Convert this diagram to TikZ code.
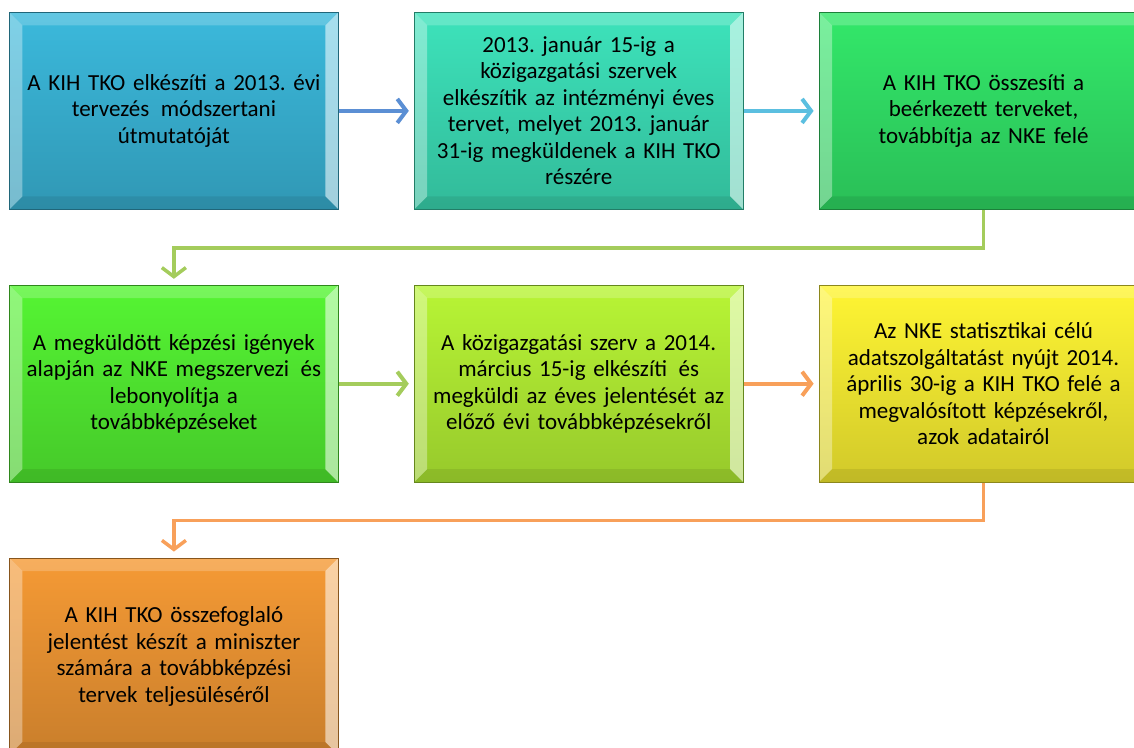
\documentclass[tikz,border=0pt]{standalone}
\usepackage{fontspec}
\setmainfont{Carlito}
\usepackage{tikz}
\usetikzlibrary{arrows.meta,positioning,calc}
\definecolor{kihblue}{RGB}{59,185,220}
\definecolor{kihteal}{RGB}{61,227,187}
\definecolor{kihgreen}{RGB}{51,232,106}
\definecolor{kihlime}{RGB}{85,245,51}
\definecolor{kihyellowgreen}{RGB}{184,245,53}
\definecolor{kihyellow}{RGB}{255,245,51}
\definecolor{kihorange}{RGB}{245,154,53}
\definecolor{arrblue}{RGB}{91,143,212}
\definecolor{arrcyan}{RGB}{91,191,224}
\definecolor{arrgreen}{RGB}{164,204,92}
\definecolor{arrorange}{RGB}{248,160,90}
\frenchspacing

\begin{document}
\begin{tikzpicture}[
    x=1pt, y=1pt,
    node distance=75pt,
    bevel/.style={path picture={
        \path (path picture bounding box.north west) coordinate (pNW)
              (path picture bounding box.north east) coordinate (pNE)
              (path picture bounding box.south west) coordinate (pSW)
              (path picture bounding box.south east) coordinate (pSE);
        \fill[white, opacity=0.20] (pNW) -- (pNE) -- ([shift={(-13pt,-13pt)}]pNE) -- ([shift={(13pt,-13pt)}]pNW) -- cycle;
        \fill[white, opacity=0.35] (pNW) -- ([shift={(13pt,-13pt)}]pNW) -- ([shift={(13pt,13pt)}]pSW) -- (pSW) -- cycle;
        \fill[white, opacity=0.55] (pNE) -- (pSE) -- ([shift={(-13pt,13pt)}]pSE) -- ([shift={(-13pt,-13pt)}]pNE) -- cycle;
        \fill[black, opacity=0.08] (pSW) -- ([shift={(13pt,13pt)}]pSW) -- ([shift={(-13pt,13pt)}]pSE) -- (pSE) -- cycle;
    }},
    box/.style={rectangle, minimum width=329pt, minimum height=197pt, inner sep=0pt,
        top color=#1, bottom color=#1!82!black, draw=#1!55!black, line width=0.8pt,
        text width=325pt, align=center, font=\fontsize{23}{26.5}\selectfont, bevel},
    arrow/.style={-{Straight Barb[length=9pt, width=24pt]}, line width=4pt, #1},
    link/.style={-{Straight Barb[length=9pt, width=24pt]}, line width=3.5pt, #1}
]

\useasboundingbox (0,0) rectangle (1134,-747);
\clip (0,0) rectangle (1134,-747);

% Row 1
\node[box=kihblue, anchor=north west] (guide) at (9,-12) {A KIH TKO elkészíti a 2013. évi\\tervezés\, módszertani\\útmutatóját};
\node[box=kihteal, right=of guide] (plans) {2013. január 15-ig a\\közigazgatási szervek\\elkészítik az intézményi éves\\tervet, melyet 2013. január\\31-ig megküldenek a KIH TKO\\részére};
\node[box=kihgreen, right=of plans] (collect) {A KIH TKO összesíti a\\beérkezett terveket,\\továbbítja az NKE felé};

% Row 2
\node[box=kihlime, below=of guide] (training) {A megküldött képzési igények\\alapján az NKE megszervezi\, és\\lebonyolítja a\\továbbképzéseket};
\node[box=kihyellowgreen, right=of training] (report) {A közigazgatási szerv a 2014.\\március 15-ig elkészíti\, és\\megküldi az éves jelentését az\\előző évi továbbképzésekről};
\node[box=kihyellow, right=of report] (stats) {Az NKE statisztikai célú\\adatszolgáltatást nyújt 2014.\\április 30-ig a KIH TKO felé a\\megvalósított képzésekről,\\azok adatairól};

% Row 3
\node[box=kihorange, below=of training] (summary) {A KIH TKO összefoglaló\\jelentést készít a miniszter\\számára a továbbképzési\\tervek teljesüléséről};

% Arrows
\draw[arrow=arrblue, shorten >=5pt] (guide) -- (plans);
\draw[arrow=arrcyan, shorten >=5pt] (plans) -- (collect);
\draw[arrow=arrgreen, shorten >=5pt] (training) -- (report);
\draw[arrow=arrorange, shorten >=5pt] (report) -- (stats);

% Row changes
\draw[link=arrgreen, shorten >=6pt] (collect.south) -- ++(0,-38) -| (training.north);
\draw[link=arrorange, shorten >=6pt] (stats.south) -- ++(0,-38) -| (summary.north);

\end{tikzpicture}
\end{document}
